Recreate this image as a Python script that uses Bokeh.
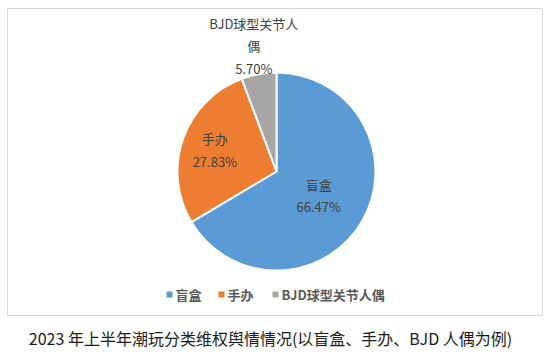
import math
from bokeh.plotting import figure
from bokeh.models import Range1d, ColumnDataSource
from bokeh.core.properties import value
from bokeh.embed import file_html
from bokeh.resources import INLINE

# ---- data ----
categories = ["盲盒", "手办", "BJD球型关节人偶"]
shares = [66.47, 27.83, 5.70]
label_names = ["盲盒", "手办", "BJD球型关节人\n偶"]
colors = ["#5b9bd5", "#ed7d31", "#a5a5a5"]
title_text = "2023 年上半年潮玩分类维权舆情情况(以盲盒、手办、BJD 人偶为例)"

W, H = 549, 357
FONT = value("Noto Sans CJK SC")

p = figure(width=W, height=H, x_range=Range1d(0, W), y_range=Range1d(0, H),
           x_axis_type=None, y_axis_type=None, toolbar_location=None,
           output_backend="svg", min_border=0, outline_line_color=None,
           background_fill_color="white", border_fill_color="white")
p.grid.visible = False

def Y(py):
    return H - py

# chart frame
p.quad(left=[7], right=[542], bottom=[Y(315)], top=[Y(8)],
       fill_color=None, line_color="#d9d9d9", line_width=1)

# pie
cx, cy, r = 276, Y(171), 99
total = sum(shares)
starts, ends, mids = [], [], []
acc = 0.0
for s in shares:
    a0 = math.pi / 2 - 2 * math.pi * acc / total
    a1 = math.pi / 2 - 2 * math.pi * (acc + s) / total
    starts.append(a0)
    ends.append(a1)
    mids.append((a0 + a1) / 2)
    acc += s

src = ColumnDataSource(dict(start=starts, end=ends, color=colors))
p.wedge(x=cx, y=cy, radius=r, start_angle="start", end_angle="end",
        direction="clock", fill_color="color", line_color="white",
        line_width=2, source=src)

# data labels
label_radius = [0.49, 0.66, 1.29]
for name, s, m, lr in zip(label_names, shares, mids, label_radius):
    lx = cx + r * lr * math.cos(m)
    ly = cy + r * lr * math.sin(m)
    lines = name.split("\n") + [f"{s:.2f}%"]
    n = len(lines)
    for i, t in enumerate(lines):
        yy = ly + (n - 1) / 2 * 22.5 - i * 22.5
        p.text(x=[lx], y=[yy], text=[t], text_font=FONT, text_font_size="13px",
               text_color="#404040", text_align="center", text_baseline="middle")

# legend
leg_x = [169, 221, 275]
leg_y = Y(294)
p.scatter(x=leg_x, y=[leg_y] * 3, marker="square", size=6, color=colors,
          line_color=None)
p.text(x=[x + 6 for x in leg_x], y=[leg_y] * 3, text=categories, text_font=FONT,
       text_font_size="13px", text_font_style="bold", text_color="#595959",
       text_align="left", text_baseline="middle")

# title below chart
p.text(x=[270], y=[Y(337)], text=[title_text], text_font=FONT,
       text_font_size="16px", text_color="#1a1a1a", text_align="center",
       text_baseline="middle")

open("out.html", "w").write(file_html(p, INLINE))
